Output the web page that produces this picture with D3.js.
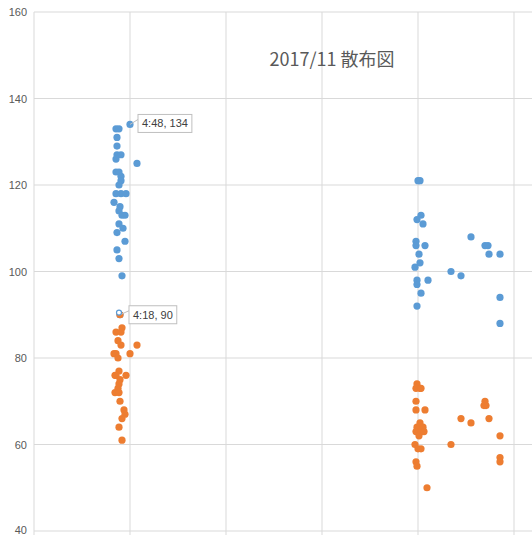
<!DOCTYPE html>
<html>
<head>
<meta charset="utf-8">
<script src="https://d3js.org/d3.v7.min.js"></script>
<style>body{margin:0;background:#fff;font-family:"Liberation Sans",Arial,sans-serif}</style>
</head>
<body>
<script>
// x = minutes after midnight, y = value
var blueMin = [246,255,288,249,249,249,261,246,309,246,255,261,261,255,261,246,276,240,258,255,264,273,255,267,249,273,249,255,264,258,
  1152,1158,1161,1149,1167,1146,1146,1173,1155,1158,1143,1149,1182,1149,1161,1149,1251,1281,1311,1353,1362,1365,1398,1398,1398];
var blueVal = [133,133,134,131,129,127,127,126,125,123,123,122,121,120,118,118,118,116,115,114,113,113,111,110,109,107,105,103,99,90,
  121,121,113,112,111,107,106,106,104,102,101,98,98,97,95,92,100,99,108,106,106,104,104,94,88];
var orangeMin = [258,264,246,261,252,261,309,240,246,288,252,255,243,246,276,258,255,252,243,255,258,270,273,264,255,264,
  1149,1158,1146,1161,1146,1146,1173,1149,1158,1167,1146,1161,1155,1170,1143,1152,1161,1146,1149,1179,1251,1281,1311,1353,1356,1350,1365,1398,1398,1398];
var orangeVal = [90,87,86,86,84,83,83,81,81,81,80,77,76,76,76,75,74,73,72,72,70,68,67,66,64,61,
  74,73,73,73,70,68,68,64,65,64,63,63,62,63,60,59,59,56,55,50,60,66,65,70,69,69,66,62,57,56];
var yTicks = [40,60,80,100,120,140,160];
var xGrid = [0,288,576,864,1152,1440];
var labels = [{m:288, v:134, text:"4:48, 134", dx:8, dy:-1}, {m:258, v:90, text:"4:18, 90", dx:9, dy:0}];

var W = 532, H = 535;
var svg = d3.select("body").append("svg").attr("width", W).attr("height", H);
var x = d3.scaleLinear().domain([0, 1440]).range([34, 514]);
var y = d3.scaleLinear().domain([40, 160]).range([531, 12]);

svg.selectAll(".hg").data(yTicks).enter().append("line")
  .attr("x1", 34).attr("x2", W).attr("y1", d => y(d)).attr("y2", d => y(d))
  .attr("stroke", "#d9d9d9").attr("stroke-width", 1);
svg.selectAll(".vg").data(xGrid).enter().append("line")
  .attr("x1", d => x(d)).attr("x2", d => x(d)).attr("y1", y(160)).attr("y2", H)
  .attr("stroke", "#d9d9d9").attr("stroke-width", 1);
svg.selectAll(".yt").data(yTicks).enter().append("text")
  .attr("x", 27).attr("y", d => Math.min(y(d) + 4, 534)).attr("text-anchor", "end")
  .attr("font-size", 11).attr("fill", "#595959").text(d => d);

svg.append("text").attr("x", 332).attr("y", 66).attr("text-anchor", "middle")
  .attr("font-family", "'Noto Sans CJK JP',sans-serif").attr("font-size", 18)
  .attr("fill", "#595959").text("2017/11 散布図");

function dots(ms, vs, color) {
  svg.append("g").selectAll("circle").data(ms).enter().append("circle")
    .attr("cx", d => x(d)).attr("cy", (d, i) => y(vs[i])).attr("r", 3.6)
    .attr("fill", color);
}
dots(blueMin, blueVal, "#5b9bd5");
dots(orangeMin, orangeVal, "#ed7d31");

labels.forEach(function (l) {
  var px = x(l.m), py = y(l.v);
  var g = svg.append("g");
  var t = g.append("text").attr("x", px + l.dx + 4).attr("y", py + l.dy + 4)
    .attr("font-size", 11).attr("fill", "#404040").text(l.text);
  var bb = t.node().getBBox();
  g.insert("rect", "text").attr("x", bb.x - 4).attr("y", bb.y - 3)
    .attr("width", bb.width + 8).attr("height", bb.height + 6)
    .attr("fill", "#fff").attr("stroke", "#bfbfbf");
  g.insert("line", "rect").attr("x1", px).attr("y1", py).attr("x2", bb.x - 4).attr("y2", py + l.dy - 4)
    .attr("stroke", "#bfbfbf");
});
svg.append("circle").attr("cx", x(258) - 1).attr("cy", y(90.5)).attr("r", 2.5)
  .attr("fill", "#fff").attr("stroke", "#5b9bd5").attr("stroke-width", 1.2);
</script>
</body>
</html>
